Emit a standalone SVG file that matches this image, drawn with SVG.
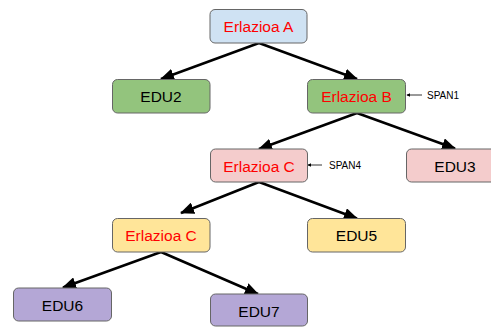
<svg xmlns="http://www.w3.org/2000/svg" width="491" height="327" viewBox="0 0 491 327">
  <defs>
    <marker id="head" viewBox="0 0 14 12" refX="13" refY="6" markerWidth="14" markerHeight="12" markerUnits="userSpaceOnUse" orient="auto">
      <path d="M0,0 L14,6 L0,12 Z" fill="#000"/>
    </marker>
    <marker id="small" viewBox="0 0 6 6" refX="5" refY="3" markerWidth="4" markerHeight="4" markerUnits="userSpaceOnUse" orient="auto">
      <path d="M0,0 L6,3 L0,6 Z" fill="#000"/>
    </marker>
  </defs>
  <style>
    .box { stroke: #666; stroke-width: 1; }
    .blue { fill: #cfe2f3; }
    .green { fill: #93c47d; }
    .pink { fill: #f4cccc; }
    .yellow { fill: #ffe599; }
    .purple { fill: #b4a7d6; }
    .lbl { font-family: "Liberation Sans", Arial, sans-serif; font-size: 15.5px; text-anchor: middle; fill: #000; }
    .rel { fill: #ff0000; }
    .span { font-family: "Liberation Sans", Arial, sans-serif; font-size: 10px; fill: #000; }
    .edge { stroke: #000; stroke-width: 2.5; fill: none; marker-end: url(#head); }
    .ptr { stroke: #000; stroke-width: 0.8; fill: none; marker-end: url(#small); }
  </style>

  <g id="connectors">
    <line class="edge" x1="259" y1="43" x2="161" y2="79"/>
    <line class="edge" x1="259" y1="43" x2="357" y2="79"/>
    <line class="edge" x1="357" y1="113" x2="259" y2="149"/>
    <line class="edge" x1="357" y1="113" x2="455" y2="148.5"/>
    <line class="edge" x1="259" y1="182" x2="181" y2="213"/>
    <line class="edge" x1="259" y1="182" x2="357" y2="218.5"/>
    <line class="edge" x1="161" y1="252" x2="63" y2="287.5"/>
    <line class="edge" x1="161" y1="252" x2="258" y2="294"/>
    <line class="ptr" x1="422" y1="95" x2="407" y2="95"/>
    <line class="ptr" x1="322" y1="165" x2="308" y2="165"/>
  </g>

  <g id="rel-a">
    <rect class="box blue" x="210" y="9.5" width="97" height="33.5" rx="5"/>
    <text class="lbl rel" x="258.5" y="32">Erlazioa A</text>
  </g>
  <g id="edu2">
    <rect class="box green" x="112.5" y="79.5" width="97.5" height="33.5" rx="5"/>
    <text class="lbl" x="161" y="102">EDU2</text>
  </g>
  <g id="rel-b">
    <rect class="box green" x="307.5" y="79.5" width="98" height="33.5" rx="5"/>
    <text class="lbl rel" x="356.5" y="102">Erlazioa B</text>
  </g>
  <g id="span1">
    <text class="span" x="427" y="99">SPAN1</text>
  </g>
  <g id="rel-c1">
    <rect class="box pink" x="210.5" y="149" width="97" height="33" rx="5"/>
    <text class="lbl rel" x="259" y="171.5">Erlazioa C</text>
  </g>
  <g id="span4">
    <text class="span" x="329" y="168.5">SPAN4</text>
  </g>
  <g id="edu3">
    <rect class="box pink" x="406.5" y="149" width="98" height="33" rx="5"/>
    <text class="lbl" x="455" y="171.5">EDU3</text>
  </g>
  <g id="rel-c2">
    <rect class="box yellow" x="112.5" y="218.5" width="97.5" height="33.5" rx="5"/>
    <text class="lbl rel" x="161" y="241">Erlazioa C</text>
  </g>
  <g id="edu5">
    <rect class="box yellow" x="307.5" y="218.5" width="98" height="33.5" rx="5"/>
    <text class="lbl" x="356.5" y="241">EDU5</text>
  </g>
  <g id="edu6">
    <rect class="box purple" x="13.5" y="288" width="98" height="33" rx="5"/>
    <text class="lbl" x="62.5" y="310.5">EDU6</text>
  </g>
  <g id="edu7">
    <rect class="box purple" x="210.5" y="294" width="97" height="32" rx="5"/>
    <text class="lbl" x="259" y="316.5">EDU7</text>
  </g>
</svg>
